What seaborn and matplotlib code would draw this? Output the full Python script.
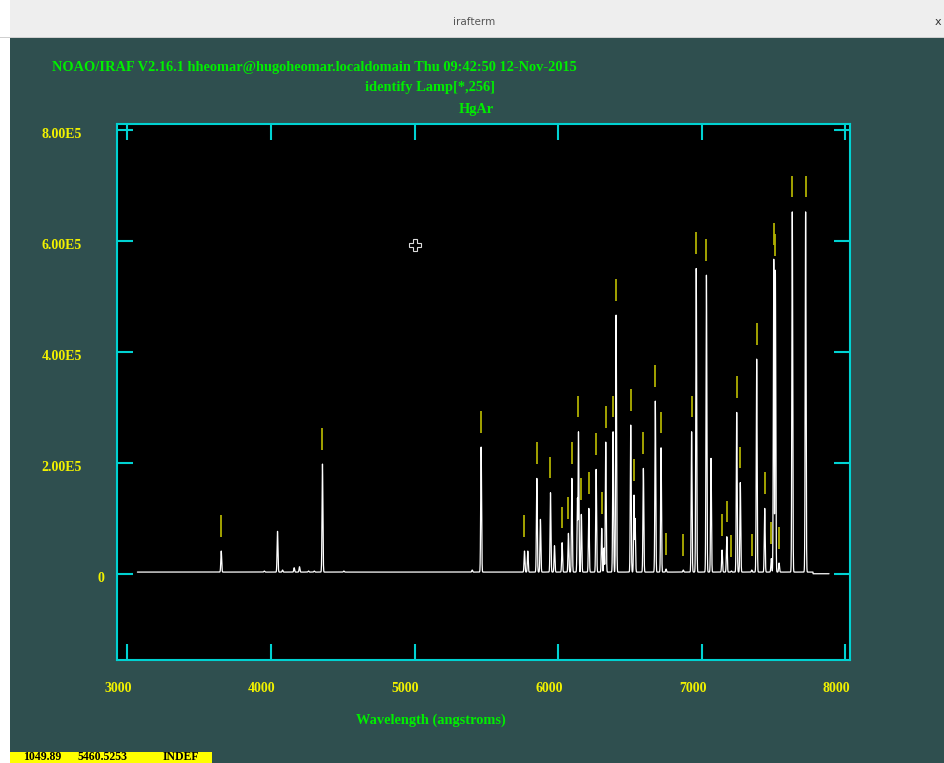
import numpy as np
import pandas as pd
import matplotlib
matplotlib.use("Agg")
import matplotlib.pyplot as plt
import matplotlib.transforms as mtransforms
from matplotlib.patches import Rectangle
import seaborn as sns

# ---- HgAr comparison lamp, row 256: emission lines (centre in Angstrom, peak counts)
line_wl = [3654, 3954, 4046, 4081, 4162, 4199, 4262, 4302, 4359, 4508,
           5402, 5464, 5766, 5789, 5852, 5877, 5947, 5975, 6028, 6072,
           6096, 6135, 6142, 6162, 6214, 6265, 6304, 6320, 6332, 6383,
           6404, 6506, 6529, 6536, 6594, 6677, 6717, 6752, 6872, 6930,
           6962, 7033, 7065, 7142, 7175, 7207, 7244, 7269, 7349, 7383,
           7439, 7485, 7502, 7513, 7539, 7631, 7724]
line_peak = [40900, 4900, 76400, 6700, 10800, 12600, 4900, 4900, 197700, 4900,
             6700, 228300, 40900, 40900, 171900, 98000, 146000, 50500, 55900, 72800,
             171900, 136400, 255900, 107000, 117800, 188100, 81800, 46300, 237300, 255900,
             466200, 268000, 141800, 99800, 189900, 311200, 227000, 8500, 6700, 255900,
             550300, 538200, 208000, 42700, 66700, 4900, 290800, 164300, 6700, 386900,
             117800, 27400, 567000, 547200, 19300, 652300, 652300]
# 1 = line identified in the line list (gets a yellow mark)
line_ident = [1, 0, 0, 0, 0, 0, 0, 0, 1, 0,
              0, 1, 1, 0, 1, 0, 1, 0, 1, 1,
              1, 0, 1, 1, 1, 1, 1, 0, 1, 1,
              1, 1, 1, 0, 1, 1, 1, 1, 1, 1,
              1, 1, 0, 1, 1, 1, 1, 1, 1, 1,
              1, 1, 1, 1, 1, 1, 1]

continuum_level = 3000
spec_start, continuum_end, spec_end = 3070, 7775, 7887
line_sigma = 3.0

x_ticks = [3000, 4000, 5000, 6000, 7000, 8000]
y_ticks = [0, 200000, 400000, 600000, 800000]
y_tick_labels = ["0", "2.00E5", "4.00E5", "6.00E5", "8.00E5"]
x_limits = (2928, 8033)
y_limits = (-155500, 810800)

cursor_wl, cursor_flux = 5005, 592000

header = "NOAO/IRAF V2.16.1 hheomar@hugoheomar.localdomain Thu 09:42:50 12-Nov-2015"
subtitle = "identify Lamp[*,256]"
lamp_name = "HgAr"
x_label = "Wavelength (angstroms)"
status_fields = ["1049.89", "5460.5253", "INDEF"]
window_title = "irafterm"

# ---- colours
BG = "#2f4f4f"
CYAN = "#00d2d2"
GREEN = "#00ee00"
YELLOW = "#f2f200"
MARK = "#b0b000"
SERIF = ["Liberation Serif", "DejaVu Serif"]

sns.set_theme(style="ticks")
plt.rcParams["font.family"] = SERIF

# ---- spectrum sampled on a fine grid
wl = np.arange(spec_start, spec_end + 0.5, 0.5)
base = np.where(wl <= continuum_end, continuum_level, 0.0)
centres = np.array(line_wl, float)[:, None]
amps = np.array(line_peak, float)[:, None] - continuum_level
profiles = amps * np.exp(-0.5 * ((wl[None, :] - centres) / line_sigma) ** 2)
flux = base + profiles.max(axis=0).clip(min=0)
spec = pd.DataFrame({"wavelength": wl, "counts": flux})

W, H, DPI = 945, 763, 100
fig = plt.figure(figsize=(W / DPI, H / DPI), dpi=DPI, facecolor=BG)


def fx(px):
    return px / W


def fy(py):
    return 1 - py / H


# window chrome
fig.add_artist(Rectangle((0, fy(38)), 1, 38 / H, transform=fig.transFigure,
                         facecolor="#eeeeee", edgecolor="none", zorder=0))
fig.add_artist(Rectangle((0, fy(38)), 1, 1 / H, transform=fig.transFigure,
                         facecolor="#cfcfcf", edgecolor="none", zorder=1))
fig.add_artist(Rectangle((0, 0), 10 / W, 1, transform=fig.transFigure,
                         facecolor="white", edgecolor="none", zorder=0))
fig.text(fx(474), fy(22), window_title, color="#555555", fontsize=7.5,
         family="DejaVu Sans", ha="center", va="center")
fig.text(fx(938), fy(22), "x", color="#333333", fontsize=8,
         family="DejaVu Sans", ha="center", va="center")

ax = fig.add_axes([fx(117), fy(660), fx(850) - fx(117), fy(124) - fy(660)])
ax.set_facecolor("black")

sns.lineplot(data=spec, x="wavelength", y="counts", ax=ax, color="white",
             lw=0.9, estimator=None, sort=False, zorder=3)

ident = np.array(line_ident, bool)
mark_wl = np.array(line_wl, float)[ident]
mark_pk = np.array(line_peak, float)[ident]
ax.vlines(mark_wl, mark_pk + 26000, mark_pk + 65000, color=MARK, lw=1.3, zorder=2)

ax.plot([cursor_wl], [cursor_flux], marker="P", ms=8, mfc="none",
        mec="#dcdcdc", mew=0.8, ls="none", zorder=4)

ax.set_xlim(*x_limits)
ax.set_ylim(*y_limits)
ax.set_xticks(x_ticks)
ax.set_yticks(y_ticks)
ax.tick_params(direction="in", length=11.5, width=1.5, color=CYAN,
               top=True, right=True, labelbottom=False, labelleft=False)
ax.set_xlabel("")
ax.set_ylabel("")
for s in ax.spines.values():
    s.set_color(CYAN)
    s.set_linewidth(1.5)


def shift(dx_px, dy_px):
    return mtransforms.ScaledTranslation(dx_px / DPI, dy_px / DPI, fig.dpi_scale_trans)


label_kw = dict(color=YELLOW, fontsize=10, fontweight="bold", family=SERIF)
for t in x_ticks:
    ax.text(t, 0, str(t), transform=ax.get_xaxis_transform() + shift(-9, -28),
            ha="center", va="center", **label_kw)
for v, lab in zip(y_ticks, y_tick_labels):
    dx = -13 if lab == "0" else -35
    ax.text(0, v, lab, transform=ax.get_yaxis_transform() + shift(dx, -5),
            ha="right", va="center", **label_kw)

title_kw = dict(color=GREEN, fontweight="bold", family=SERIF, va="center")
fig.text(fx(52), fy(67), header, ha="left", fontsize=10.4, **title_kw)
fig.text(fx(430), fy(88), subtitle, ha="center", fontsize=10.4, **title_kw)
fig.text(fx(476), fy(110), lamp_name, ha="center", fontsize=10.4, **title_kw)
fig.text(fx(431), fy(720), x_label, ha="center", fontsize=10.4, **title_kw)

# status line
fig.add_artist(Rectangle((fx(10), 0), 202 / W, 11 / H, transform=fig.transFigure,
                         facecolor="#ffff00", edgecolor="none", zorder=1))
for xpos, field in zip([23, 78, 163], status_fields):
    fig.text(fx(xpos), fy(760), field, color="black", fontsize=8.5,
             fontweight="bold", family=SERIF, ha="left", va="baseline", zorder=2)

fig.savefig("out.png", dpi=DPI, facecolor=BG)
